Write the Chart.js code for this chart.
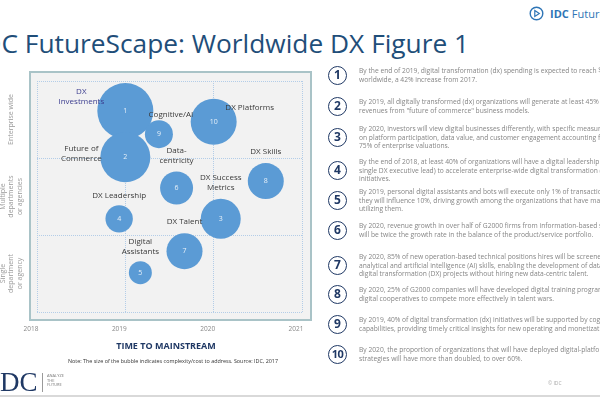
<!DOCTYPE html>
<html><head><meta charset="utf-8">
<script src="https://cdn.jsdelivr.net/npm/chart.js@4.4.0/dist/chart.umd.min.js"></script>
<style>
html,body{margin:0;padding:0;width:600px;height:397px;overflow:hidden;background:#fff;font-family:"Open Sans",sans-serif}
body{position:relative}
#chartWrap{position:absolute;left:0;top:0;width:330px;height:360px}
.title{position:absolute;left:-25px;top:30px;font-size:26.3px;line-height:26px;color:#1f4e79;white-space:nowrap}
.brand{position:absolute;left:529px;top:5px;height:16px;display:flex;align-items:center;white-space:nowrap;font-size:11px;color:#2e75b6}
.brand b{margin-left:6px;margin-right:3px}
.xtitle{position:absolute;left:66px;width:200px;top:340px;text-align:center;font-weight:700;font-size:9px;line-height:12px;color:#1f3864}
.note{position:absolute;left:20px;width:306px;top:358px;text-align:center;font-size:5.4px;line-height:7px;color:#333;white-space:nowrap}
.num{position:absolute;left:328px;width:19px;height:19px;box-sizing:border-box;border:1.5px solid #1f3864;border-radius:50%;text-align:center;font-weight:700;font-size:12px;line-height:16px;color:#1f3864}
.ptext{position:absolute;left:359px;font-size:6.7px;line-height:8.6px;color:#858585;white-space:nowrap}
.logo{position:absolute;left:-9px;top:369px;font-family:"Liberation Serif",serif;font-size:27px;line-height:26px;color:#1f3864}
.divider{position:absolute;left:42px;top:373px;width:1px;height:19px;background:#9a9a9a}
.tag{position:absolute;left:47px;top:374px;font-size:4px;line-height:4.6px;color:#777;white-space:nowrap}
.copy{position:absolute;left:548px;top:380px;font-size:5px;color:#aaa}
.bottomline{position:absolute;left:0;top:395px;width:600px;height:2px;background:#d9d9d9}
</style></head><body>
<div class="title">IDC FutureScape: Worldwide DX Figure 1</div>
<div class="brand"><svg width="15" height="15" viewBox="0 0 15 15"><circle cx="7.5" cy="7.5" r="6.3" fill="none" stroke="#2e75b6" stroke-width="1.4"/><path d="M5.8 4.5 L10.3 7.5 L5.8 10.5 Z" fill="none" stroke="#2e75b6" stroke-width="1.2"/></svg><b>IDC</b>FutureScape</div>
<div id="chartWrap"><canvas id="c" width="330" height="360"></canvas></div>
<div class="xtitle">TIME TO MAINSTREAM</div>
<div class="note">Note: The size of the bubble indicates complexity/cost to address. Source: IDC, 2017</div>
<div id="list"></div>
<div class="logo">IDC</div>
<div class="divider"></div>
<div class="tag">ANALYZE<br>THE<br>FUTURE</div>
<div class="copy">© IDC</div>
<div class="bottomline"></div>
<script>
// ---- data ----
const predictionIds = [1, 2, 3, 4, 5, 6, 7, 8, 9, 10];
const bubbleNames = [["DX","Investments"],["Future of","Commerce"],["DX Success","Metrics"],["DX Leadership"],["Digital","Assistants"],["Data-","centricity"],["DX Talent"],["DX Skills"],["Cognitive/AI"],["DX Platforms"]];
const timeToMainstream = [2019.0, 2019.0, 2020.08, 2018.93, 2019.17, 2019.58, 2019.67, 2020.59, 2019.38, 2020.0];
const organizationalScope = [2.61, 2.01, 1.21, 1.21, 0.51, 1.61, 0.79, 1.70, 2.31, 2.47];
const complexityCost = [28, 25, 20, 13.7, 11.5, 16.5, 18, 18, 14, 23];
const yearTicks = ["2018", "2019", "2020", "2021"];
const scopeBands = [["Single","department","or agency"],["Multiple","departments","or agencies"],["Enterprise wide"]];
const predictionTexts = [
 ["By the end of 2019, digital transformation (dx) spending is expected to reach $1.7 trillion","worldwide, a 42% increase from 2017."],
 ["By 2019, all digitally transformed (dx) organizations will generate at least 45% of their","revenues from \"future of commerce\" business models."],
 ["By 2020, investors will view digital businesses differently, with specific measures based","on platform participation, data value, and customer engagement accounting for up to","75% of enterprise valuations."],
 ["By the end of 2018, at least 40% of organizations will have a digital leadership team (or a","single DX executive lead) to accelerate enterprise-wide digital transformation (DX)","initiatives."],
 ["By 2019, personal digital assistants and bots will execute only 1% of transactions, but","they will influence 10%, driving growth among the organizations that have mastered","utilizing them."],
 ["By 2020, revenue growth in over half of G2000 firms from information-based services","will be twice the growth rate in the balance of the product/service portfolio."],
 ["By 2020, 85% of new operation-based technical positions hires will be screened for","analytical and artificial intelligence (AI) skills, enabling the development of data-driven","digital transformation (DX) projects without hiring new data-centric talent."],
 ["By 2020, 25% of G2000 companies will have developed digital training programs and","digital cooperatives to compete more effectively in talent wars."],
 ["By 2019, 40% of digital transformation (dx) initiatives will be supported by cognitive/AI","capabilities, providing timely critical insights for new operating and monetization models."],
 ["By 2020, the proportion of organizations that will have deployed digital-platform","strategies will have more than doubled, to over 60%."]
];

// ---- layout (not data) ----
const nameOffsets = [[-44,-19],[-44,-9],[0,-41],[0,-23],[0,-31],[0,-37],[0,-29],[0,-29],[12,-19],[36,-14]];
const listRowY = [75, 106, 137, 170, 200, 230, 265, 294, 324, 354];
const lineH = 8.6;

// list
const list = document.getElementById('list');
predictionTexts.forEach((lines, i) => {
  const n = document.createElement('div');
  n.className = 'num';
  n.style.top = (listRowY[i] - 9.5) + 'px';
  n.textContent = predictionIds[i];
  if (predictionIds[i] >= 10) { n.style.fontSize = '11px'; n.style.letterSpacing = '-0.5px'; }
  list.appendChild(n);
  const t = document.createElement('div');
  t.className = 'ptext';
  t.style.top = (listRowY[i] + 1 - lines.length * lineH / 2) + 'px';
  t.innerHTML = lines.map(s => s.replace(/&/g,'&amp;').replace(/</g,'&lt;')).join('<br>');
  list.appendChild(t);
});

const gridColor = '#b3cde8';
const annotations = {
  id: 'annotations',
  beforeDraw(chart) {
    const {ctx, chartArea: a} = chart;
    ctx.save();
    ctx.fillStyle = '#f2f2f2';
    ctx.fillRect(a.left - 7, a.top - 9, a.right - a.left + 16, a.bottom - a.top + 17);
    ctx.strokeStyle = '#a9c3c7';
    ctx.lineWidth = 2;
    ctx.strokeRect(a.left - 7, a.top - 9, a.right - a.left + 16, a.bottom - a.top + 17);
    ctx.restore();
  },
  afterDatasetsDraw(chart) {
    const ctx = chart.ctx;
    const ys = chart.scales.y;
    ctx.save();
    ctx.textAlign = 'center';
    ctx.textBaseline = 'middle';
    ctx.fillStyle = '#999';
    ctx.font = '7px "Open Sans"';
    scopeBands.forEach((lines, i) => {
      const cy = ys.getPixelForValue(i + 0.5);
      const n = lines.length;
      lines.forEach((txt, k) => {
        const x = 11 + (k - (n - 1) / 2) * 8.5;
        ctx.save();
        ctx.translate(x, cy);
        ctx.rotate(-Math.PI / 2);
        ctx.fillText(txt, 0, 0);
        ctx.restore();
      });
    });
    const meta = chart.getDatasetMeta(0);
    meta.data.forEach((pt, i) => {
      ctx.fillStyle = 'rgba(255,255,255,0.85)';
      ctx.font = '7px "Open Sans"';
      ctx.fillText(String(predictionIds[i]), pt.x, pt.y);
      const [dx, dy] = nameOffsets[i];
      ctx.fillStyle = i === 0 ? '#3b3d8f' : '#3a3a3a';
      ctx.font = '8px "Open Sans"';
      bubbleNames[i].forEach((txt, k) => ctx.fillText(txt, pt.x + dx, pt.y + dy + k * 10));
    });
    ctx.restore();
  }
};

new Chart(document.getElementById('c'), {
  type: 'bubble',
  data: {
    datasets: [{
      label: 'Predictions',
      data: predictionIds.map((id, i) => ({x: timeToMainstream[i], y: organizationalScope[i], r: complexityCost[i]})),
      backgroundColor: '#5b9bd5',
      borderWidth: 0,
      hoverRadius: 0
    }]
  },
  options: {
    responsive: false,
    animation: false,
    events: [],
    layout: {padding: {left: 37, top: 81, right: 24, bottom: 8}},
    plugins: {legend: {display: false}, tooltip: {enabled: false}, title: {display: false}},
    scales: {
      x: {
        type: 'linear', min: 2018, max: 2021,
        afterBuildTicks(s) { s.ticks = yearTicks.map(v => ({value: Number(v)})); },
        ticks: {callback: (v, i) => yearTicks[i], font: {size: 6.5, family: 'Open Sans'}, color: '#888', padding: 13, labelOffset: -6, maxRotation: 0, minRotation: 0},
        grid: {color: gridColor, lineWidth: 1, drawTicks: false, borderDash: [1, 1]},
        border: {display: false, dash: [1, 1]},
        afterFit(s) { s.height = 40; }
      },
      y: {
        min: 0, max: 3,
        ticks: {display: false, stepSize: 1},
        grid: {color: gridColor, lineWidth: 1, drawTicks: false, borderDash: [1, 1]},
        border: {display: false, dash: [1, 1]},
        afterFit(s) { s.width = 0; }
      }
    }
  },
  plugins: [annotations]
});
</script>
</body></html>
